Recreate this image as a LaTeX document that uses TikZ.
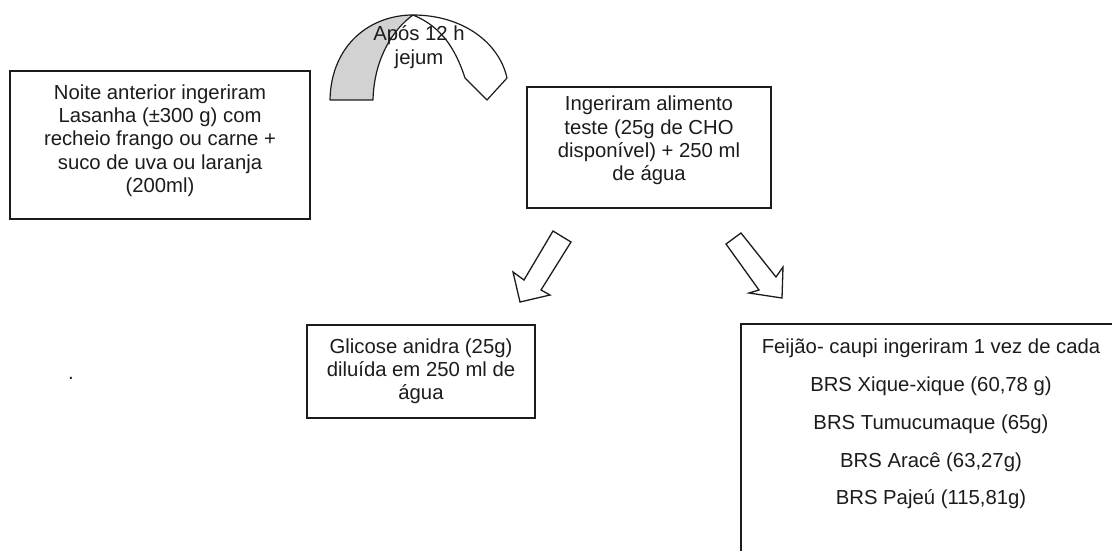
\documentclass[tikz,border=0pt]{standalone}
\usepackage{fontspec}
\setmainfont{Liberation Sans}
\definecolor{ink}{HTML}{1C1C1C}
\definecolor{shade}{HTML}{D2D2D2}
\begin{document}
\begin{tikzpicture}[x=1pt,y=-1pt,
  box/.style={draw=ink, line width=1.2pt, rectangle, inner sep=0pt, fill=white},
  txt/.style={font=\fontsize{20.3}{23.3}\selectfont, align=center, inner sep=0pt, text=ink},
  bigtxt/.style={font=\fontsize{20.3}{37.8}\selectfont, align=center, inner sep=0pt, text=ink},
  blockarrow/.style={draw=ink, line width=1.3pt, fill=white, line join=miter},
  arcpart/.style={draw=ink, line width=1.2pt, line join=round}]
\clip (0,0) rectangle (1112,550);
\fill[white] (0,0) rectangle (1112,550);

% curved block arc
\path[arcpart, fill=white] (413,15) .. controls (462,15) and (499,42) .. (507,78)
  -- (487,100) -- (465,78) .. controls (455,47) and (440,26) .. (413,15) -- cycle;
\path[arcpart, fill=shade] (330,100) .. controls (331,45) and (370,15) .. (413,15)
  .. controls (392,30) and (374,60) .. (373,100) -- cycle;
\node[txt] (jejum) at (419,47) {Após 12 h\\jejum};

% boxes
\node[box, minimum width=300pt, minimum height=148pt] (lasanha) at (160,145) {};
\node[txt] (lasanhaT) at (160,140.6) {Noite anterior ingeriram\\Lasanha (±300 g) com\\recheio frango ou carne +\\suco de uva ou laranja\\(200ml)};

\node[box, minimum width=244pt, minimum height=121pt] (teste) at (649,147.5) {};
\node[txt] (testeT) at (649,140.5) {Ingeriram alimento\\teste (25g de CHO\\disponível) + 250 ml\\de água};

\node[box, minimum width=228pt, minimum height=93pt] (glicose) at (421,371.5) {};
\node[txt] (glicoseT) at (421,371.3) {Glicose anidra (25g)\\diluída em 250 ml de\\água};

\node[box, minimum width=384pt, minimum height=250pt] (feijao) at (933,449) {};
\node[bigtxt] (feijaoT) at (931,424) {Feijão- caupi ingeriram 1 vez de cada\\BRS Xique-xique (60,78 g)\\BRS Tumucumaque (65g)\\BRS Aracê (63,27g)\\BRS Pajeú (115,81g)};

\node[txt] (dot) at (71,378) {.};

% block arrows
\path[blockarrow] (553,231) -- (524,280) -- (513,272) -- (520,302) -- (550,295) -- (541,290) -- (571,242) -- cycle;
\path[blockarrow] (741,233) -- (776,277) -- (783,267) -- (782,298) -- (749,293) -- (759,290) -- (726,244) -- cycle;
\end{tikzpicture}
\end{document}
